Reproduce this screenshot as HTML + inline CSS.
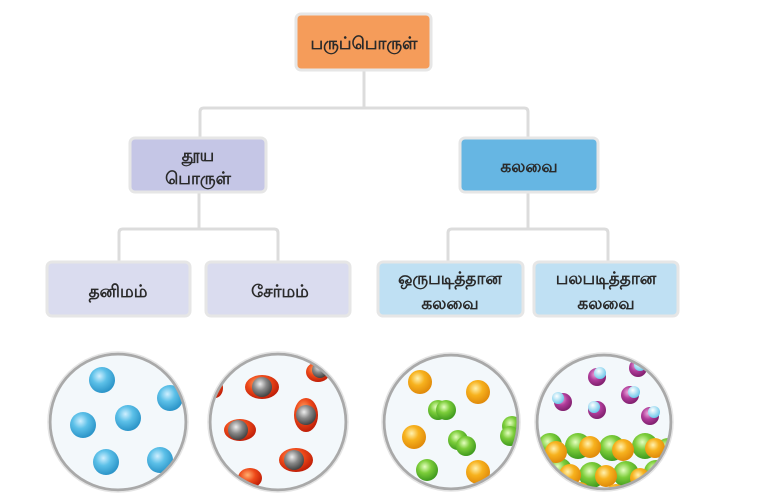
<!DOCTYPE html>
<html><head><meta charset="utf-8"><style>
body{margin:0;background:#fff;}
svg text{font-family:"Liberation Sans","Noto Sans CJK SC",sans-serif;font-size:17px;font-weight:bold;fill:#2a2a2a;text-anchor:middle;}
</style></head><body>
<svg width="782" height="494" viewBox="0 0 782 494" xmlns="http://www.w3.org/2000/svg">
<defs>
<radialGradient id="bl" cx="0.4" cy="0.35" r="0.65"><stop offset="0" stop-color="#cfefff"/><stop offset="0.45" stop-color="#5cc0e8"/><stop offset="1" stop-color="#2b94c8"/></radialGradient>
<radialGradient id="or" cx="0.4" cy="0.35" r="0.65"><stop offset="0" stop-color="#fff2b0"/><stop offset="0.45" stop-color="#f7b21e"/><stop offset="1" stop-color="#e08a0a"/></radialGradient>
<radialGradient id="gr" cx="0.4" cy="0.35" r="0.65"><stop offset="0" stop-color="#e5ffc0"/><stop offset="0.45" stop-color="#7ccd3a"/><stop offset="1" stop-color="#3f9a1e"/></radialGradient>
<radialGradient id="rd" cx="0.4" cy="0.35" r="0.65"><stop offset="0" stop-color="#ffb070"/><stop offset="0.5" stop-color="#ee4a1a"/><stop offset="1" stop-color="#c01f08"/></radialGradient>
<radialGradient id="gy" cx="0.4" cy="0.35" r="0.65"><stop offset="0" stop-color="#eee"/><stop offset="0.5" stop-color="#888"/><stop offset="1" stop-color="#444"/></radialGradient>
<radialGradient id="pu" cx="0.4" cy="0.35" r="0.65"><stop offset="0" stop-color="#f0b0e0"/><stop offset="0.5" stop-color="#b03c9a"/><stop offset="1" stop-color="#80206e"/></radialGradient>
<radialGradient id="lb" cx="0.4" cy="0.35" r="0.65"><stop offset="0" stop-color="#fff"/><stop offset="1" stop-color="#6cc8ea"/></radialGradient>
<clipPath id="c1"><circle cx="118" cy="422" r="67"/></clipPath>
<clipPath id="c2"><circle cx="278" cy="422" r="67"/></clipPath>
<clipPath id="c3"><circle cx="451" cy="422" r="66"/></clipPath>
<clipPath id="c4"><circle cx="604" cy="422" r="66"/></clipPath>
</defs>
<g fill="none" stroke="#dcdcdc" stroke-width="3">
<path d="M364 70V108M200 138V112q0-4 4-4H524q4 0 4 4V138"/>
<path d="M199 192V229M119 262V233q0-4 4-4H274q4 0 4 4V262"/>
<path d="M528 192V229M448 262V233q0-4 4-4H604q4 0 4 4V262"/>
</g>
<g stroke="#e6e6e6" stroke-width="3">
<rect x="296" y="14" width="135" height="56" rx="5" fill="#f59c5a"/>
<rect x="130" y="138" width="136" height="54" rx="5" fill="#c5c6e6"/>
<rect x="460" y="138" width="138" height="54" rx="5" fill="#66b6e3"/>
<rect x="47" y="262" width="143" height="54" rx="5" fill="#dadcef"/>
<rect x="206" y="262" width="144" height="54" rx="5" fill="#dadcef"/>
<rect x="378" y="262" width="145" height="54" rx="5" fill="#bfe0f3"/>
<rect x="534" y="262" width="144" height="54" rx="5" fill="#bfe0f3"/>
</g>
<text x="364" y="49">பருப்பொருள்</text>
<text x="198" y="161">தூய</text><text x="198" y="184">பொருள்</text>
<text x="529" y="172">கலவை</text>
<text x="118" y="297">தனிமம்</text>
<text x="280" y="297">சேர்மம்</text>
<text x="450" y="284">ஒருபடித்தான</text><text x="450" y="309">கலவை</text>
<text x="606" y="284">பலபடித்தான</text><text x="606" y="309">கலவை</text>
<g fill="#f3f8fb">
<circle cx="118" cy="422" r="68"/><circle cx="278" cy="422" r="68"/><circle cx="451" cy="422" r="67"/><circle cx="604" cy="422" r="67"/>
</g>
<g clip-path="url(#c1)" fill="url(#bl)">
<circle cx="102" cy="380" r="13"/><circle cx="170" cy="398" r="13"/><circle cx="83" cy="425" r="13"/><circle cx="128" cy="418" r="13"/><circle cx="106" cy="462" r="13"/><circle cx="160" cy="460" r="13"/>
</g>
<g clip-path="url(#c2)">
<g fill="url(#rd)"><ellipse cx="262" cy="387" rx="17" ry="12"/><ellipse cx="306" cy="415" rx="12" ry="17"/><ellipse cx="240" cy="430" rx="16" ry="11"/><ellipse cx="296" cy="460" rx="17" ry="12"/><ellipse cx="318" cy="372" rx="12" ry="10"/><ellipse cx="215" cy="388" rx="8" ry="10"/><ellipse cx="250" cy="478" rx="12" ry="10"/></g>
<g fill="url(#gy)"><circle cx="262" cy="387" r="10"/><circle cx="306" cy="415" r="10"/><circle cx="238" cy="430" r="10"/><circle cx="294" cy="460" r="10"/><circle cx="320" cy="370" r="8"/></g>
</g>
<g clip-path="url(#c3)">
<g fill="url(#gr)"><circle cx="438" cy="410" r="10"/><circle cx="446" cy="410" r="10"/><circle cx="458" cy="440" r="10"/><circle cx="466" cy="446" r="10"/><circle cx="512" cy="426" r="10"/><circle cx="510" cy="436" r="10"/><circle cx="427" cy="470" r="11"/></g>
<g fill="url(#or)"><circle cx="420" cy="382" r="12"/><circle cx="478" cy="392" r="12"/><circle cx="414" cy="437" r="12"/><circle cx="478" cy="472" r="12"/></g>
</g>
<g clip-path="url(#c4)">
<g fill="url(#pu)"><circle cx="563" cy="402" r="9"/><circle cx="597" cy="377" r="9"/><circle cx="630" cy="395" r="9"/><circle cx="597" cy="410" r="9"/><circle cx="650" cy="416" r="9"/><circle cx="638" cy="368" r="9"/></g>
<g fill="url(#lb)"><circle cx="558" cy="398" r="6"/><circle cx="600" cy="373" r="6"/><circle cx="634" cy="392" r="6"/><circle cx="594" cy="407" r="6"/><circle cx="654" cy="412" r="6"/><circle cx="640" cy="365" r="6"/></g>
<g fill="url(#gr)"><circle cx="550" cy="445" r="12"/><circle cx="578" cy="446" r="13"/><circle cx="612" cy="448" r="13"/><circle cx="645" cy="446" r="13"/><circle cx="668" cy="450" r="12"/><circle cx="560" cy="470" r="12"/><circle cx="592" cy="475" r="13"/><circle cx="626" cy="474" r="13"/><circle cx="656" cy="472" r="12"/></g>
<g fill="url(#or)"><circle cx="556" cy="452" r="11"/><circle cx="590" cy="447" r="11"/><circle cx="623" cy="450" r="11"/><circle cx="655" cy="448" r="10"/><circle cx="570" cy="475" r="11"/><circle cx="606" cy="476" r="11"/><circle cx="640" cy="478" r="10"/><circle cx="580" cy="492" r="10"/><circle cx="616" cy="494" r="10"/></g>
</g>
<g fill="none" stroke="#a9a9a9" stroke-width="3">
<circle cx="118" cy="422" r="68"/><circle cx="278" cy="422" r="68"/><circle cx="451" cy="422" r="67"/><circle cx="604" cy="422" r="67"/>
</g>
<g fill="none" stroke="#e4e4e4" stroke-width="1.5">
<circle cx="118" cy="422" r="70"/><circle cx="278" cy="422" r="70"/><circle cx="451" cy="422" r="69"/><circle cx="604" cy="422" r="69"/>
</g>
</svg>
</body></html>
